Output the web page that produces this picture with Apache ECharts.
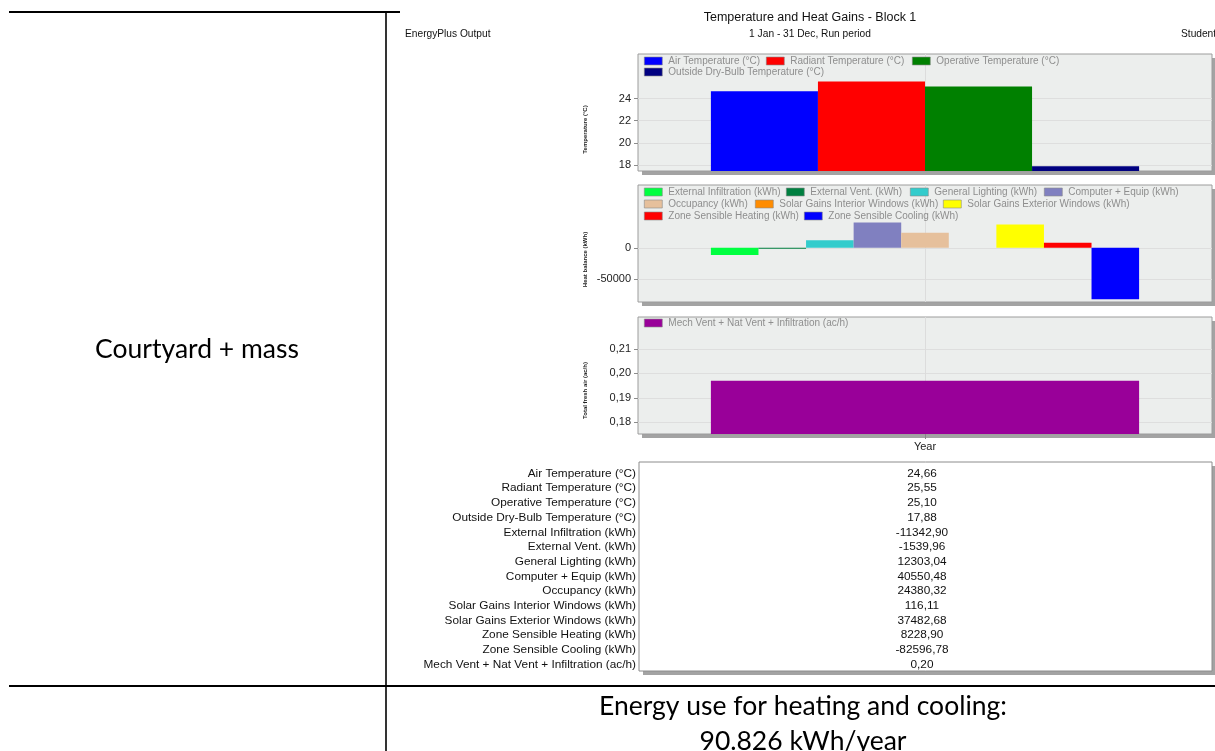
<!DOCTYPE html>
<html>
<head>
<meta charset="utf-8">
<title>Temperature and Heat Gains - Block 1</title>
<script src="https://cdn.jsdelivr.net/npm/echarts@6/dist/echarts.min.js"></script>
<style>
  html, body { margin: 0; padding: 0; background: #ffffff; }
  #chart { width: 1215px; height: 751px; }
</style>
</head>
<body>
<div id="chart"></div>
<script>
// ---- Annual values, Block 1 ----
const category = ['Year'];

const tempNames = ['Air Temperature (°C)', 'Radiant Temperature (°C)', 'Operative Temperature (°C)', 'Outside Dry-Bulb Temperature (°C)'];
const tempValues = [24.66, 25.55, 25.10, 17.88];
const tempTicks = [18, 20, 22, 24];

const heatNames = ['External Infiltration (kWh)', 'External Vent. (kWh)', 'General Lighting (kWh)', 'Computer + Equip (kWh)',
  'Occupancy (kWh)', 'Solar Gains Interior Windows (kWh)', 'Solar Gains Exterior Windows (kWh)',
  'Zone Sensible Heating (kWh)', 'Zone Sensible Cooling (kWh)'];
const heatValues = [-11342.90, -1539.96, 12303.04, 40550.48, 24380.32, 116.11, 37482.68, 8228.90, -82596.78];
const heatTicks = [-50000, 0];

const ventNames = ['Mech Vent + Nat Vent + Infiltration (ac/h)'];
const ventValues = [0.197];
const ventTicks = [0.18, 0.19, 0.20, 0.21];

// ---- Styling ----
const tempColors = ['#0000ff', '#ff0000', '#008000', '#000080'];
const heatColors = ['#00ff40', '#008040', '#33cccc', '#8080c0', '#e6c09c', '#ff8c00', '#ffff00', '#ff0000', '#0000ff'];
const ventColors = ['#990099'];

const FONT = 'Liberation Sans, Arial, sans-serif';
const BIG_FONT = 'Lato, "Open Sans", sans-serif';

// Panel boxes (pixels) and axis extents
const PANEL_LEFT = 638, PANEL_WIDTH = 574;
const panels = [
  { top: 54, height: 117, min: 17.46, max: 28.03, step: 2, ticks: tempTicks, title: 'Temperature (°C)',
    fmt: v => String(v) },
  { top: 185, height: 117, min: -87000, max: 101000, step: 50000, ticks: heatTicks, title: 'Heat balance (kWh)',
    fmt: v => String(v) },
  { top: 317, height: 117, min: 0.1751, max: 0.2232, step: 0.01, ticks: ventTicks, title: 'Total fresh air (ac/h)',
    fmt: v => v.toFixed(2).replace('.', ',') }
];

// Legend item placement per panel: [left, top] for each entry
const legendSpots = [
  [[644, 56], [766, 56], [912, 56], [644, 67]],
  [[644, 187], [786, 187], [910, 187], [1044, 187], [644, 199], [755, 199], [943, 199], [644, 211], [804, 211]],
  [[644, 318]]
];

const fmt2 = v => v.toFixed(2).replace('.', ',');

const groups = [
  { names: tempNames, values: tempValues, colors: tempColors },
  { names: heatNames, values: heatValues, colors: heatColors },
  { names: ventNames, values: ventValues, colors: ventColors }
];

const grids = [], xAxes = [], yAxes = [], series = [], legends = [], graphics = [];

panels.forEach((p, i) => {
  grids.push({
    left: PANEL_LEFT, width: PANEL_WIDTH, top: p.top, height: p.height,
    show: true, backgroundColor: '#eceeed', borderColor: '#9c9c9c', borderWidth: 1
  });
  // drop shadow of the panel
  graphics.push({
    type: 'rect', z: -1, silent: true,
    shape: { x: PANEL_LEFT + 4, y: p.top + 4, width: PANEL_WIDTH, height: p.height },
    style: { fill: '#a3a3a3' }
  });
  // rotated axis title
  graphics.push({
    type: 'text', x: 585, y: p.top + p.height / 2 + (i === 0 ? 17 : (i === 1 ? 16 : 15)), rotation: Math.PI / 2,
    style: { text: p.title, fill: '#222', font: 'bold 6px ' + FONT,
      textAlign: 'center', textVerticalAlign: 'middle' }
  });

  const last = i === panels.length - 1;
  xAxes.push({
    gridIndex: i, type: 'category', data: category,
    axisLine: { show: false },
    axisTick: { show: last, alignWithLabel: true, length: 5, lineStyle: { color: '#888' } },
    axisLabel: { show: last, fontFamily: FONT, fontSize: 11, color: '#222', margin: 7 },
    splitLine: { show: false }
  });
  yAxes.push({
    gridIndex: i, type: 'value', min: p.min, max: p.max,
    minInterval: p.step, maxInterval: p.step,
    axisLine: { show: false },
    axisTick: { show: true, customValues: p.ticks, length: 4, lineStyle: { color: '#8c8c8c' } },
    axisLabel: { customValues: p.ticks, fontFamily: FONT, fontSize: 11, color: '#222', margin: 7,
      formatter: p.fmt },
    splitLine: { show: true, lineStyle: { color: '#dedede', width: 1 } }
  });

  // vertical reference line through the category centre, kept behind the bars
  series.push({
    type: 'line', xAxisIndex: i, yAxisIndex: i, data: [], z: 1, silent: true,
    markLine: {
      z: 1, silent: true, symbol: ['none', 'none'], label: { show: false },
      lineStyle: { color: '#dcdcdc', type: 'solid', width: 1 },
      data: [{ xAxis: category[0] }]
    }
  });

  const g = groups[i];
  g.names.forEach((name, k) => {
    series.push({
      type: 'bar', name: name, xAxisIndex: i, yAxisIndex: i,
      data: [g.values[k]],
      itemStyle: { color: g.colors[k] },
      barGap: '0%', barCategoryGap: '25.4%', z: 7
    });
    const spot = legendSpots[i][k];
    legends.push({
      data: [name], left: spot[0], top: spot[1], padding: 0, itemGap: 0, z: 10,
      itemWidth: 18, itemHeight: 8, icon: 'rect', selectedMode: false,
      itemStyle: { borderColor: '#8a8a8a', borderWidth: 0.6 },
      textStyle: { fontFamily: FONT, fontSize: 10, color: '#8e8e8e', padding: [0, 0, 0, 1] }
    });
  });
});

// Header texts
graphics.push(
  { type: 'text', x: 810, y: 18, style: { text: 'Temperature and Heat Gains - Block 1', font: '12.5px ' + FONT, fill: '#111', textAlign: 'center', textVerticalAlign: 'middle' } },
  { type: 'text', x: 405, y: 34, style: { text: 'EnergyPlus Output', font: '10.2px ' + FONT, fill: '#111', textAlign: 'left', textVerticalAlign: 'middle' } },
  { type: 'text', x: 810, y: 34, style: { text: '1 Jan - 31 Dec, Run period', font: '10.2px ' + FONT, fill: '#111', textAlign: 'center', textVerticalAlign: 'middle' } },
  { type: 'text', x: 1181, y: 34, style: { text: 'Student', font: '10.2px ' + FONT, fill: '#111', textAlign: 'left', textVerticalAlign: 'middle' } }
);

// Page frame lines
graphics.push(
  { type: 'line', silent: true, shape: { x1: 9, y1: 12, x2: 400, y2: 12 }, style: { stroke: '#000', lineWidth: 2 } },
  { type: 'line', silent: true, shape: { x1: 386, y1: 12, x2: 386, y2: 751 }, style: { stroke: '#000', lineWidth: 1.6 } },
  { type: 'line', silent: true, shape: { x1: 9, y1: 686, x2: 1215, y2: 686 }, style: { stroke: '#000', lineWidth: 2 } }
);

// Row label and energy summary
graphics.push(
  { type: 'text', x: 197, y: 349, style: { text: 'Courtyard + mass', font: '26.5px ' + BIG_FONT, fill: '#000', textAlign: 'center', textVerticalAlign: 'middle' } },
  { type: 'text', x: 803, y: 706, style: { text: 'Energy use for heating and cooling:', font: '26.5px ' + BIG_FONT, fill: '#000', textAlign: 'center', textVerticalAlign: 'middle' } },
  { type: 'text', x: 803, y: 741, style: { text: '90.826 kWh/year', font: '26.5px ' + BIG_FONT, fill: '#000', textAlign: 'center', textVerticalAlign: 'middle' } }
);

// Summary table of the same values
const tableNames = tempNames.concat(heatNames, ventNames);
const tableValues = tempValues.concat(heatValues, ventValues);
const TABLE = { x: 639, y: 462, w: 573, h: 209, rowTop: 473.5, rowStep: 14.7 };
graphics.push(
  { type: 'rect', silent: true, z: -1, shape: { x: TABLE.x + 4, y: TABLE.y + 4, width: TABLE.w, height: TABLE.h }, style: { fill: '#a3a3a3' } },
  { type: 'rect', silent: true, shape: { x: TABLE.x, y: TABLE.y, width: TABLE.w, height: TABLE.h }, style: { fill: '#ffffff', stroke: '#8c8c8c', lineWidth: 1 } }
);
tableNames.forEach((name, r) => {
  const y = TABLE.rowTop + r * TABLE.rowStep;
  graphics.push(
    { type: 'text', x: 636, y: y, z: 5, style: { text: name, font: '11.8px ' + FONT, fill: '#111', textAlign: 'right', textVerticalAlign: 'middle' } },
    { type: 'text', x: 922, y: y, z: 5, style: { text: fmt2(tableValues[r]), font: '11.8px ' + FONT, fill: '#111', textAlign: 'center', textVerticalAlign: 'middle' } }
  );
});

const chart = echarts.init(document.getElementById('chart'), null, { renderer: 'canvas' });
chart.setOption({
  animation: false,
  backgroundColor: '#ffffff',
  grid: grids,
  xAxis: xAxes,
  yAxis: yAxes,
  legend: legends,
  series: series,
  graphic: { elements: graphics }
});
</script>
</body>
</html>
